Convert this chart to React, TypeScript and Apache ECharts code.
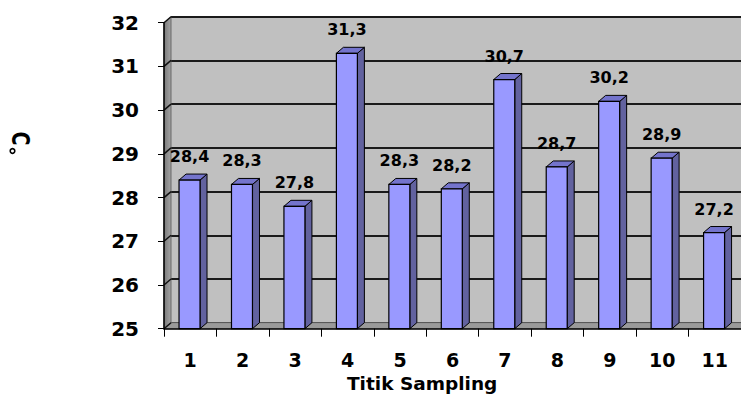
import React, { useEffect, useRef } from "react";
import * as echarts from "echarts";

const categories = ["1", "2", "3", "4", "5", "6", "7", "8", "9", "10", "11"];
const values = [28.4, 28.3, 27.8, 31.3, 28.3, 28.2, 30.7, 28.7, 30.2, 28.9, 27.2];
const yTicks = [25, 26, 27, 28, 29, 30, 31, 32];
const xTitle = "Titik Sampling";
const yTitle = "C";

const DX = 7;
const DY = -6;
const FONT = "DejaVu Sans";

export default function App() {
  const ref = useRef<HTMLDivElement>(null);
  useEffect(() => {
    document.body.style.margin = "0";
    const chart = echarts.init(ref.current!, null, { renderer: "svg" });
    const yMin = yTicks[0];
    const yMax = yTicks[yTicks.length - 1];
    const gridLeft = 164;
    const gridTop = 22.7;
    const gridW = 577.5;
    const gridH = 306;

    const option: any = {
      animation: false,
      backgroundColor: "#fff",
      grid: [
        { left: gridLeft, top: gridTop, width: gridW, height: gridH, z: 2 },
        {
          left: gridLeft + DX,
          top: gridTop + DY,
          width: gridW,
          height: gridH,
          show: true,
          backgroundColor: "#C0C0C0",
          borderWidth: 0,
          z: 0,
        },
      ],
      xAxis: [
        {
          type: "category",
          gridIndex: 0,
          data: categories,
          boundaryGap: true,
          axisLine: { show: true, lineStyle: { color: "#000", width: 1.5 } },
          axisTick: { show: true, length: 8, lineStyle: { color: "#000", width: 1 } },
          axisLabel: {
            margin: 24,
            fontFamily: FONT,
            fontWeight: "bold",
            fontSize: 19,
            color: "#000",
            lineHeight: 14,
          },
          z: 5,
        },
        { type: "category", gridIndex: 1, data: categories, show: false },
      ],
      yAxis: [
        {
          type: "value",
          gridIndex: 0,
          min: yMin,
          max: yMax,
          interval: 1,
          axisLine: { show: true, lineStyle: { color: "#000", width: 1.5 } },
          axisTick: { show: true, length: 6, lineStyle: { color: "#000", width: 1 } },
          splitLine: { show: false },
          axisLabel: {
            margin: 25,
            fontFamily: FONT,
            fontWeight: "bold",
            fontSize: 20,
            color: "#000",
            padding: [3, 0, 0, 0],
          },
          z: 5,
        },
        {
          type: "value",
          gridIndex: 1,
          min: yMin,
          max: yMax,
          interval: 1,
          axisLine: { show: false },
          axisTick: { show: false },
          axisLabel: { show: false },
          splitLine: { show: true, lineStyle: { color: "#1a1a1a", width: 2 } },
        },
      ],
      series: [
        {
          type: "custom",
          xAxisIndex: 0,
          yAxisIndex: 0,
          z: 1,
          silent: true,
          data: [[0, yMin]],
          renderItem: (params: any, api: any) => {
            const cs = params.coordSys;
            const x0 = cs.x;
            const y0 = cs.y;
            const w = cs.width;
            const h = cs.height;
            const children: any[] = [
              {
                type: "polygon",
                shape: {
                  points: [
                    [x0, y0 + h],
                    [x0, y0],
                    [x0 + DX, y0 + DY],
                    [x0 + DX, y0 + h + DY],
                  ],
                },
                style: {
                  fill: new echarts.graphic.LinearGradient(0, 0, 1, 0, [
                    { offset: 0, color: "#7a7a7a" },
                    { offset: 1, color: "#a4a4a4" },
                  ]),
                  stroke: "#555",
                  lineWidth: 0.8,
                },
              },
              {
                type: "polygon",
                shape: {
                  points: [
                    [x0, y0 + h],
                    [x0 + w, y0 + h],
                    [x0 + w + DX, y0 + h + DY],
                    [x0 + DX, y0 + h + DY],
                  ],
                },
                style: { fill: "#9a9a9a", stroke: "#6a6a6a", lineWidth: 0.8 },
              },
            ];
            yTicks.forEach((t) => {
              const p = api.coord([0, t]);
              children.push({
                type: "line",
                shape: { x1: x0, y1: p[1], x2: x0 + DX, y2: p[1] + DY },
                style: { stroke: "#111", lineWidth: 1.5 },
              });
            });
            return { type: "group", children };
          },
        },
        {
          type: "custom",
          xAxisIndex: 0,
          yAxisIndex: 0,
          z: 3,
          data: values.map((v, i) => [i, v]),
          encode: { x: 0, y: 1 },
          renderItem: (params: any, api: any) => {
            const i = api.value(0);
            const v = api.value(1);
            const top = api.coord([i, v]);
            const base = api.coord([i, yMin]);
            const bw = api.size([1, 0])[0] * 0.4;
            const x0 = top[0] - bw / 2 - 0.7;
            const x1 = x0 + bw;
            const ty = top[1];
            const by = base[1];
            const label = String(v.toFixed(1)).replace(".", ",");
            return {
              type: "group",
              children: [
                {
                  type: "polygon",
                  shape: {
                    points: [
                      [x1, ty],
                      [x1 + DX, ty + DY],
                      [x1 + DX, by + DY],
                      [x1, by],
                    ],
                  },
                  style: { fill: "#62629f", stroke: "#000", lineWidth: 1 },
                },
                {
                  type: "polygon",
                  shape: {
                    points: [
                      [x0, ty],
                      [x0 + DX, ty + DY],
                      [x1 + DX, ty + DY],
                      [x1, ty],
                    ],
                  },
                  style: { fill: "#7474cc", stroke: "#000", lineWidth: 1 },
                },
                {
                  type: "rect",
                  shape: { x: x0, y: ty, width: bw, height: by - ty },
                  style: { fill: "#9999FF", stroke: "#000", lineWidth: 1.2 },
                },
                {
                  type: "text",
                  x: x0 + bw / 2,
                  y: ty - 23.5,
                  style: {
                    text: label,
                    fill: "#000",
                    font: `bold 16px "${FONT}"`,
                    align: "center",
                    verticalAlign: "middle",
                  },
                },
              ],
            };
          },
        },
      ],
      graphic: [
        {
          type: "text",
          left: 347,
          top: 373.5,
          style: {
            text: xTitle,
            fill: "#000",
            font: `bold 18.5px "${FONT}"`,
            lineHeight: 14,
          },
        },
        {
          type: "text",
          x: 20.5,
          y: 138.5,
          rotation: -Math.PI / 2,
          scaleY: 1.3,
          style: {
            text: yTitle,
            fill: "#000",
            font: `bold 19px "${FONT}"`,
            align: "center",
            verticalAlign: "middle",
          },
        },
        {
          type: "circle",
          shape: { cx: 12.5, cy: 151, r: 2.3 },
          style: { fill: "none", stroke: "#000", lineWidth: 1.6 },
        },
      ],
    };
    chart.setOption(option);
    return () => chart.dispose();
  }, []);
  return <div ref={ref} style={{ width: 741, height: 394 }} />;
}
